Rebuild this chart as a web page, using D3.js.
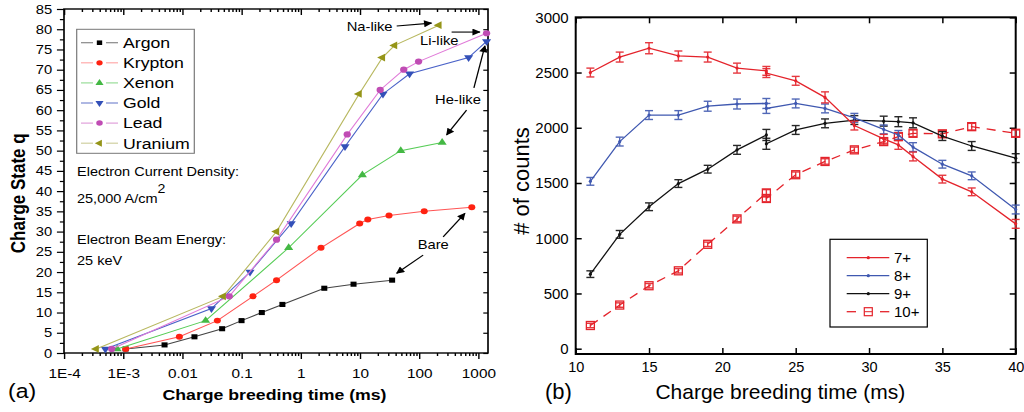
<!DOCTYPE html>
<html><head><meta charset="utf-8">
<script src="https://cdn.jsdelivr.net/npm/d3@7"></script>
<style>body{margin:0;background:#fff}svg{display:block}text{font-family:Arial,"Liberation Sans",sans-serif;fill:#000}</style>
</head><body><svg id="c" width="1024" height="412"></svg>
<script>
// ---------- Panel (a) data: charge breeding time (ms) vs charge state q ----------
const argonT   = [0.0011, 0.005, 0.016, 0.047, 0.1, 0.22, 0.49, 2.5, 7.8, 35];
const argonQ   = [1, 2, 4, 6, 8, 10, 12, 16, 17, 18];
const kryptonT = [0.0011, 0.0089, 0.039, 0.156, 0.39, 2.2, 9.9, 13.6, 31, 122, 776];
const kryptonQ = [1, 4, 8, 14, 18, 26, 32, 33, 34, 35, 36];
const xenonT   = [0.00079, 0.0247, 0.625, 11, 49, 245];
const xenonQ   = [1, 8, 26, 44, 50, 52];
const goldT    = [0.0005, 0.031, 0.139, 0.69, 5.6, 24.5, 69, 686, 1380];
const goldQ    = [1, 11, 20, 32, 51, 64, 69, 73, 77];
const leadT    = [0.00064, 0.062, 0.39, 6.1, 22, 55, 98, 1380];
const leadQ    = [1, 14, 28, 54, 65, 70, 72, 79];
const uraniumT = [0.00035, 0.049, 0.39, 9.7, 24, 38.5, 216];
const uraniumQ = [1, 14, 30, 64, 73, 76, 81];
const ionNames = ["Argon", "Krypton", "Xenon", "Gold", "Lead", "Uranium"];
const xDecades = [1e-4, 1e-3, 1e-2, 1e-1, 1, 10, 100, 1000];
const xDecadeLabels = ["1E-4", "1E-3", "0.01", "0.1", "1", "10", "100", "1000"];
const qTicks = d3.range(0, 86, 5);
// annotation arrows in data coords [t0,q0,t1,q1]
const arrowsA = [[41.8,80.8,162,81.5],[354,79.3,1064,79.3],[843,65.5,1294,75.9],[634,60,292,53.9],[117,24.2,41.8,19.7],[255,28.7,594,34.5]];

// ---------- Panel (b) data: # of counts vs charge breeding time ----------
const times = [11,13,15,17,19,21,23,23,25,27,29,31,32,33,35,37,40];
const c7  = [2500,2640,2720,2650,2640,2540,2515,2495,2425,2275,2020,1900,1845,1740,1535,1420,1130];
const e7  = [40,45,50,45,45,45,40,40,40,50,40,40,40,40,35,35,40];
const c8  = [1515,1875,2115,2115,2195,2215,2220,2175,2220,2175,2090,1985,1935,1825,1670,1565,1260];
const e8  = [35,40,40,40,45,45,45,45,40,40,40,40,40,40,35,35,40];
const c9  = [675,1035,1285,1495,1625,1800,1935,1855,1980,2040,2070,2060,2055,2045,1925,1835,1725];
const e9  = [30,35,35,35,35,40,50,50,40,40,40,45,45,45,40,40,40];
const c10 = [210,395,570,705,945,1175,1410,1360,1575,1695,1800,1875,1920,1950,1945,2010,1950];
const e10 = [20,20,20,20,20,25,30,30,25,25,25,30,30,30,30,30,30];
const seriesNamesB = ["7+", "8+", "9+", "10+"];
const countTicks = d3.range(0, 3001, 500);
const timeTicks = d3.range(10, 41, 5);

const svg = d3.select("#c");

// ================= Panel (a) =================
const S = 1.18; // horizontal stretch of the original panel
const gA = svg.append("g").attr("transform", `scale(${S},1)`);
const xA = d3.scaleLog().domain([1e-4, Math.pow(10, 3.164)]).range([64 / S, 488 / S]);
const yA = d3.scaleLinear().domain([0, 85]).range([353, 9]);

const minors = [];
for (let e = -4; e <= 3; e++) for (let m = 2; m <= 9; m++) { const v = m * Math.pow(10, e); if (v < xA.domain()[1]) minors.push(v); }

function styleAxis(g) { g.select(".domain").remove(); g.selectAll("line").attr("stroke", "#000").attr("stroke-width", 1.2); }

// bottom axis
const bA = gA.append("g").attr("transform", `translate(0,${yA(0)})`)
  .call(d3.axisBottom(xA).tickValues(xDecades).tickFormat((d, i) => xDecadeLabels[i]).tickSize(6));
styleAxis(bA);
bA.selectAll("text").attr("y", 25).attr("dy", 0).style("font-size", "13px");
styleAxis(gA.append("g").attr("transform", `translate(0,${yA(0)})`).call(d3.axisBottom(xA).tickValues(minors).tickFormat("").tickSize(3)));
// top axis (inward)
styleAxis(gA.append("g").attr("transform", `translate(0,${yA(85)})`).call(d3.axisBottom(xA).tickValues(xDecades).tickFormat("").tickSize(6)));
styleAxis(gA.append("g").attr("transform", `translate(0,${yA(85)})`).call(d3.axisBottom(xA).tickValues(minors).tickFormat("").tickSize(3)));
// left axis
const lA = gA.append("g").attr("transform", `translate(${xA.range()[0]},0)`)
  .call(d3.axisLeft(yA).tickValues(qTicks).tickSize(6).tickPadding(4));
styleAxis(lA);
lA.selectAll("text").style("font-size", "12.5px");
styleAxis(gA.append("g").attr("transform", `translate(${xA.range()[0]},0)`).call(d3.axisLeft(yA).tickValues(d3.range(2.5, 85, 5)).tickFormat("").tickSize(3.5)));
// right axis (inward)
styleAxis(gA.append("g").attr("transform", `translate(${xA.range()[1]},0)`).call(d3.axisLeft(yA).tickValues(qTicks).tickFormat("").tickSize(4)));
// frame
gA.append("rect").attr("x", xA.range()[0]).attr("y", yA(85)).attr("width", xA.range()[1] - xA.range()[0]).attr("height", yA(0) - yA(85))
  .attr("fill", "none").attr("stroke", "#000").attr("stroke-width", 1.4);

const ionsA = [
  {t: argonT, q: argonQ, line: "#444", mark: "#000", leg: "#888", sym: d3.symbolSquare, size: 26, rot: 0},
  {t: kryptonT, q: kryptonQ, line: "#f55", mark: "#f21", leg: "#faa", sym: d3.symbolCircle, size: 28, rot: 0},
  {t: xenonT, q: xenonQ, line: "#5c5", mark: "#44b844", leg: "#9d9", sym: d3.symbolTriangle, size: 26, rot: 0},
  {t: goldT, q: goldQ, line: "#4a62c8", mark: "#3350b8", leg: "#7a88d0", sym: d3.symbolTriangle, size: 26, rot: 180},
  {t: leadT, q: leadQ, line: "#e07ad8", mark: "#c04cb4", leg: "#e0a0da", sym: d3.symbolCircle, size: 30, rot: 0},
  {t: uraniumT, q: uraniumQ, line: "#b8b860", mark: "#959518", leg: "#d0d0a0", sym: d3.symbolTriangle, size: 26, rot: -90}
];
const lineA = d3.line().x(d => xA(d[0])).y(d => yA(d[1]));
ionsA.forEach(s => {
  const pts = s.t.map((t, i) => [t, s.q[i]]);
  gA.append("path").datum(pts).attr("d", lineA).attr("fill", "none").attr("stroke", s.line).attr("stroke-width", 1);
  gA.selectAll(null).data(pts).enter().append("path")
    .attr("d", d3.symbol().type(s.sym).size(s.size))
    .attr("transform", d => `translate(${xA(d[0])},${yA(d[1])}) rotate(${s.rot})`)
    .attr("fill", s.mark);
});

// legend (a)
const legA = gA.append("g");
legA.append("rect").attr("x", 76.7 / S).attr("y", 29.3).attr("width", (194.3 - 76.7) / S).attr("height", 124)
  .attr("fill", "#fff").attr("stroke", "#777").attr("stroke-width", 1);
ionsA.forEach((s, i) => {
  const y = 42.7 + i * 20.1;
  legA.append("line").attr("x1", 81 / S).attr("x2", 93 / S).attr("y1", y).attr("y2", y).attr("stroke", s.leg).attr("stroke-width", 1.2);
  legA.append("line").attr("x1", 106 / S).attr("x2", 118 / S).attr("y1", y).attr("y2", y).attr("stroke", s.leg).attr("stroke-width", 1.2);
  legA.append("path").attr("d", d3.symbol().type(s.sym).size(s.size * 0.8)).attr("transform", `translate(${99.5 / S},${y}) rotate(${s.rot})`).attr("fill", s.mark);
  legA.append("text").attr("x", 123 / S).attr("y", y + 5.4).style("font-size", "15px").text(ionNames[i]);
});

// info text
const infoA = [["Electron Current Density:", 176], ["Electron Beam Energy:", 243.7], ["25 keV", 265]];
infoA.forEach(d => gA.append("text").attr("x", 77 / S).attr("y", d[1]).style("font-size", "12.3px").text(d[0]));
const cur = gA.append("text").attr("x", 77 / S).attr("y", 203.5).style("font-size", "12.3px");
cur.append("tspan").text("25,000 A/cm");
cur.append("tspan").attr("dy", -10).style("font-size", "12px").text("2");

// annotations
svg.append("defs").append("marker").attr("id", "ah").attr("viewBox", "0 0 10 10").attr("refX", 9).attr("refY", 5)
  .attr("markerWidth", 9).attr("markerHeight", 7).attr("markerUnits", "userSpaceOnUse").attr("orient", "auto")
  .append("path").attr("d", "M0,0 L10,5 L0,10 z").attr("fill", "#000");
arrowsA.forEach(a => gA.append("line").attr("x1", xA(a[0])).attr("y1", yA(a[1])).attr("x2", xA(a[2])).attr("y2", yA(a[3]))
  .attr("stroke", "#000").attr("stroke-width", 1.1).attr("marker-end", "url(#ah)"));
const labelsA = [["Na-like", 346.7, 31], ["Li-like", 420, 45], ["He-like", 435, 103.6], ["Bare", 417.7, 249.5]];
labelsA.forEach(d => gA.append("text").attr("x", d[1] / S).attr("y", d[2]).style("font-size", "12.5px").text(d[0]));

// titles
gA.append("text").attr("x", 274.5 / S).attr("y", 400).attr("text-anchor", "middle").style("font-size", "15px").style("font-weight", "bold").text("Charge breeding time (ms)");
gA.append("text").attr("transform", `translate(${25 / S},193.3) rotate(-90)`).attr("text-anchor", "middle").style("font-size", "17px").style("font-weight", "bold").text("Charge State q");
gA.append("text").attr("x", 8 / S).attr("y", 398).style("font-size", "19.5px").text("(a)");

// ================= Panel (b) =================
const xB = d3.scaleLinear().domain([10, 40]).range([575.7, 1015.7]);
const yB = d3.scaleLinear().domain([-48, 3000]).range([354, 17.3]);
const gB = svg.append("g");

const lB = gB.append("g").attr("transform", `translate(${xB(10)},0)`).call(d3.axisLeft(yB).tickValues(countTicks).tickFormat(d3.format("d")).tickSize(-6).tickPadding(7));
styleAxis(lB); lB.selectAll("text").style("font-size", "15px");
const bB = gB.append("g").attr("transform", `translate(0,${yB.range()[0]})`).call(d3.axisBottom(xB).tickValues(timeTicks).tickFormat(d3.format("d")).tickSize(-6).tickPadding(8));
styleAxis(bB); bB.selectAll("text").style("font-size", "14.5px");
styleAxis(gB.append("g").attr("transform", `translate(0,${yB.range()[1]})`).call(d3.axisTop(xB).tickValues(timeTicks).tickFormat("").tickSize(-6)));
styleAxis(gB.append("g").attr("transform", `translate(${xB(40)},0)`).call(d3.axisRight(yB).tickValues(countTicks).tickFormat("").tickSize(-6)));
gB.selectAll("line").attr("stroke-width", 1.5);
gB.append("rect").attr("x", xB(10)).attr("y", yB.range()[1]).attr("width", xB(40) - xB(10)).attr("height", yB.range()[0] - yB.range()[1])
  .attr("fill", "none").attr("stroke", "#000").attr("stroke-width", 2);

const seriesB = [
  {v: c7, e: e7, color: "#e4232b", dash: null, sq: false},
  {v: c8, e: e8, color: "#3f58b0", dash: null, sq: false},
  {v: c9, e: e9, color: "#111", dash: null, sq: false},
  {v: c10, e: e10, color: "#e4232b", dash: "9,7", sq: true}
];
const lineB = d3.line().x(d => xB(d[0])).y(d => yB(d[1]));
seriesB.slice().reverse().forEach(s => {
  const pts = times.map((t, i) => [t, s.v[i], s.e[i]]);
  gB.append("path").datum(pts).attr("d", lineB).attr("fill", "none").attr("stroke", s.color).attr("stroke-width", 1.3)
    .attr("stroke-dasharray", s.dash);
  const eb = gB.selectAll(null).data(pts).enter().append("g").attr("stroke", s.color).attr("stroke-width", 1.4).attr("opacity", 0.9);
  eb.append("line").attr("x1", d => xB(d[0])).attr("x2", d => xB(d[0])).attr("y1", d => yB(d[1] - d[2])).attr("y2", d => yB(d[1] + d[2]));
  eb.append("line").attr("x1", d => xB(d[0]) - 4).attr("x2", d => xB(d[0]) + 4).attr("y1", d => yB(d[1] - d[2])).attr("y2", d => yB(d[1] - d[2]));
  eb.append("line").attr("x1", d => xB(d[0]) - 4).attr("x2", d => xB(d[0]) + 4).attr("y1", d => yB(d[1] + d[2])).attr("y2", d => yB(d[1] + d[2]));
  if (s.sq) {
    gB.selectAll(null).data(pts).enter().append("rect").attr("x", d => xB(d[0]) - 4).attr("y", d => yB(d[1]) - 4)
      .attr("width", 8).attr("height", 8).attr("fill", "none").attr("stroke", s.color).attr("stroke-width", 1.3);
  } else {
    gB.selectAll(null).data(pts).enter().append("circle").attr("cx", d => xB(d[0])).attr("cy", d => yB(d[1])).attr("r", 1.6).attr("fill", s.color);
  }
});

// legend (b)
const legB = gB.append("g");
legB.append("rect").attr("x", 830).attr("y", 239.3).attr("width", 97.3).attr("height", 87.7).attr("fill", "#fff").attr("stroke", "#000").attr("stroke-width", 1.2);
seriesB.forEach((s, i) => {
  const y = 257.7 + i * 18;
  if (s.sq) {
    legB.append("line").attr("x1", 846.7).attr("x2", 856).attr("y1", y).attr("y2", y).attr("stroke", s.color).attr("stroke-width", 1.3);
    legB.append("line").attr("x1", 880).attr("x2", 889.3).attr("y1", y).attr("y2", y).attr("stroke", s.color).attr("stroke-width", 1.3);
    legB.append("rect").attr("x", 864.3).attr("y", y - 4).attr("width", 8).attr("height", 8).attr("fill", "none").attr("stroke", s.color).attr("stroke-width", 1.2);
    legB.append("line").attr("x1", 864.3).attr("x2", 872.3).attr("y1", y).attr("y2", y).attr("stroke", s.color).attr("stroke-width", 1);
  } else {
    legB.append("line").attr("x1", 846.7).attr("x2", 889.3).attr("y1", y).attr("y2", y).attr("stroke", s.color).attr("stroke-width", 1.3);
    legB.append("circle").attr("cx", 868.3).attr("cy", y).attr("r", 1.6).attr("fill", s.color);
  }
  legB.append("text").attr("x", 894).attr("y", y + 5.4).style("font-size", "15px").text(seriesNamesB[i]);
});

gB.append("text").attr("x", 780.3).attr("y", 399).attr("text-anchor", "middle").style("font-size", "21px").text("Charge breeding time (ms)");
gB.append("text").attr("transform", "translate(529,181) rotate(-90)").attr("text-anchor", "middle").style("font-size", "22px").text("# of counts");
gB.append("text").attr("x", 545).attr("y", 399).style("font-size", "22px").text("(b)");
</script></body></html>
